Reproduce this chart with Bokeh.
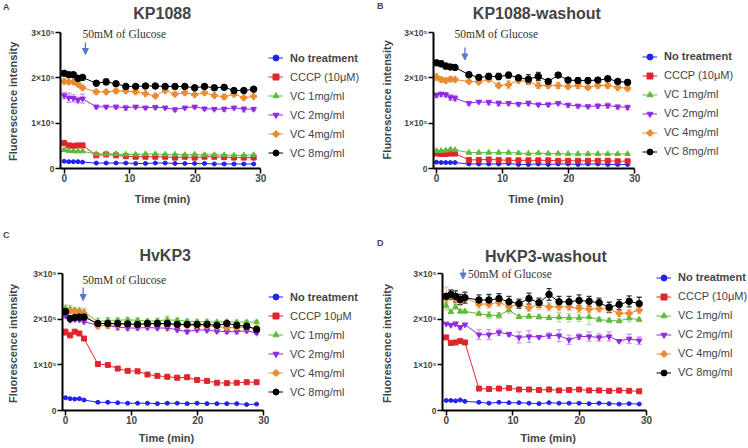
from bokeh.plotting import figure
from bokeh.models import (ColumnDataSource, Range1d, FixedTicker, Legend, LegendItem,
                          Whisker, TeeHead, Arrow, NormalHead, Label, LinearAxis)
from bokeh.layouts import column, row
from bokeh.embed import file_html
from bokeh.resources import INLINE

# ---------------- data ----------------
time_min = [0, 0.7, 1.4, 2.1, 2.8, 4.9, 6.4, 7.9, 9.4, 10.9, 12.4, 13.9, 15.4, 16.9,
            18.4, 19.9, 21.4, 22.9, 24.4, 25.9, 27.4, 28.9]
x_ticks = [0, 10, 20, 30]
y_ticks = [0, 100000, 200000, 300000]
y_tick_labels = ["0", "1×10⁵", "2×10⁵", "3×10⁵"]

series_names = ["No treatment", "CCCP (10μM)", "VC 1mg/ml", "VC 2mg/ml", "VC 4mg/ml", "VC 8mg/ml"]
series_names_hvkp3 = ["No treatment", "CCCP 10μM", "VC 1mg/ml", "VC 2mg/ml", "VC 4mg/ml", "VC 8mg/ml"]
panel_titles = ["KP1088", "KP1088-washout", "HvKP3", "HvKP3-washout"]
panel_letters = ["A", "B", "C", "D"]
glucose_text = "50mM of Glucose"
x_label = "Time (min)"
y_label = "Fluorescence intensity"

# values in units of 1e5
A_no = [0.16, 0.15, 0.15, 0.15, 0.14, 0.12, 0.12, 0.12, 0.12, 0.11, 0.11, 0.12, 0.12, 0.11, 0.11, 0.11, 0.11, 0.10, 0.10, 0.10, 0.10, 0.10]
A_cccp = [0.56, 0.51, 0.50, 0.51, 0.51, 0.29, 0.31, 0.29, 0.27, 0.26, 0.26, 0.26, 0.26, 0.24, 0.26, 0.24, 0.26, 0.26, 0.25, 0.24, 0.24, 0.24]
A_vc1 = [0.41, 0.39, 0.38, 0.38, 0.38, 0.32, 0.32, 0.32, 0.31, 0.31, 0.32, 0.32, 0.31, 0.31, 0.30, 0.31, 0.30, 0.30, 0.30, 0.29, 0.29, 0.30]
A_vc2 = [1.61, 1.56, 1.55, 1.51, 1.54, 1.36, 1.36, 1.36, 1.34, 1.36, 1.34, 1.35, 1.34, 1.30, 1.34, 1.36, 1.32, 1.31, 1.31, 1.34, 1.31, 1.31]
A_vc4 = [1.92, 1.91, 1.91, 1.86, 1.78, 1.69, 1.69, 1.71, 1.71, 1.69, 1.65, 1.60, 1.72, 1.64, 1.67, 1.63, 1.67, 1.61, 1.58, 1.64, 1.56, 1.59]
A_vc8 = [2.10, 2.07, 2.07, 1.99, 2.01, 1.88, 1.91, 1.87, 1.81, 1.81, 1.82, 1.82, 1.81, 1.81, 1.81, 1.78, 1.81, 1.78, 1.79, 1.72, 1.72, 1.75]
A_no_err = [0.01, 0.01, 0.01, 0.01, 0.01, 0.01, 0.01, 0.01, 0.01, 0.01, 0.01, 0.01, 0.01, 0.01, 0.01, 0.01, 0.01, 0.01, 0.01, 0.01, 0.01, 0.01]
A_cccp_err = [0.02, 0.01, 0.01, 0.01, 0.01, 0.02, 0.02, 0.02, 0.02, 0.02, 0.02, 0.02, 0.02, 0.02, 0.02, 0.02, 0.02, 0.02, 0.02, 0.02, 0.02, 0.02]
A_vc1_err = [0.02, 0.01, 0.01, 0.01, 0.01, 0.01, 0.01, 0.01, 0.01, 0.01, 0.01, 0.02, 0.01, 0.01, 0.01, 0.02, 0.01, 0.01, 0.01, 0.01, 0.01, 0.01]
A_vc2_err = [0.07, 0.10, 0.08, 0.06, 0.10, 0.04, 0.03, 0.04, 0.05, 0.03, 0.03, 0.04, 0.03, 0.04, 0.03, 0.03, 0.03, 0.03, 0.05, 0.03, 0.06, 0.04]
A_vc4_err = [0.04, 0.03, 0.03, 0.03, 0.03, 0.04, 0.03, 0.03, 0.03, 0.02, 0.02, 0.02, 0.02, 0.02, 0.02, 0.02, 0.02, 0.02, 0.05, 0.04, 0.02, 0.02]
A_vc8_err = [0.03, 0.02, 0.02, 0.06, 0.02, 0.03, 0.06, 0.03, 0.04, 0.03, 0.02, 0.02, 0.03, 0.03, 0.02, 0.02, 0.02, 0.02, 0.02, 0.02, 0.02, 0.03]

B_no = [0.14, 0.13, 0.13, 0.13, 0.13, 0.10, 0.10, 0.10, 0.10, 0.11, 0.09, 0.09, 0.10, 0.09, 0.10, 0.10, 0.09, 0.10, 0.10, 0.09, 0.09, 0.09]
B_cccp = [0.33, 0.32, 0.32, 0.33, 0.33, 0.19, 0.19, 0.20, 0.19, 0.18, 0.18, 0.18, 0.18, 0.18, 0.17, 0.17, 0.17, 0.17, 0.17, 0.17, 0.16, 0.16]
B_vc1 = [0.39, 0.39, 0.40, 0.42, 0.41, 0.35, 0.35, 0.35, 0.35, 0.35, 0.34, 0.33, 0.34, 0.33, 0.33, 0.32, 0.32, 0.32, 0.32, 0.32, 0.32, 0.32]
B_vc2 = [1.62, 1.64, 1.63, 1.57, 1.55, 1.44, 1.47, 1.46, 1.44, 1.44, 1.42, 1.44, 1.41, 1.41, 1.44, 1.40, 1.38, 1.37, 1.38, 1.39, 1.36, 1.35]
B_vc4 = [2.02, 1.96, 1.94, 1.97, 1.96, 1.92, 1.91, 1.97, 1.83, 1.85, 1.94, 1.92, 1.83, 1.83, 1.83, 1.81, 1.83, 1.79, 1.83, 1.83, 1.79, 1.77]
B_vc8 = [2.33, 2.31, 2.26, 2.24, 2.23, 2.07, 2.01, 2.03, 2.03, 2.06, 2.00, 1.97, 2.03, 1.92, 2.06, 1.95, 1.94, 1.94, 1.95, 1.98, 1.92, 1.90]
B_no_err = [0.01, 0.01, 0.01, 0.01, 0.01, 0.01, 0.01, 0.01, 0.01, 0.01, 0.01, 0.01, 0.01, 0.01, 0.01, 0.01, 0.01, 0.01, 0.01, 0.01, 0.01, 0.01]
B_cccp_err = [0.01, 0.01, 0.01, 0.01, 0.01, 0.02, 0.02, 0.02, 0.02, 0.02, 0.02, 0.02, 0.02, 0.02, 0.02, 0.02, 0.02, 0.02, 0.02, 0.02, 0.02, 0.02]
B_vc1_err = [0.01, 0.01, 0.01, 0.01, 0.01, 0.01, 0.01, 0.01, 0.01, 0.01, 0.01, 0.01, 0.01, 0.01, 0.01, 0.01, 0.01, 0.01, 0.01, 0.01, 0.01, 0.01]
B_vc2_err = [0.05, 0.05, 0.05, 0.06, 0.06, 0.04, 0.03, 0.05, 0.05, 0.04, 0.04, 0.05, 0.03, 0.04, 0.03, 0.04, 0.04, 0.03, 0.05, 0.05, 0.05, 0.05]
B_vc4_err = [0.08, 0.05, 0.05, 0.05, 0.04, 0.03, 0.03, 0.05, 0.04, 0.09, 0.05, 0.05, 0.06, 0.05, 0.07, 0.05, 0.07, 0.05, 0.05, 0.05, 0.07, 0.05]
B_vc8_err = [0.04, 0.06, 0.06, 0.04, 0.04, 0.05, 0.04, 0.07, 0.07, 0.06, 0.05, 0.10, 0.09, 0.03, 0.05, 0.05, 0.06, 0.05, 0.04, 0.05, 0.04, 0.05]

C_no = [0.28, 0.26, 0.25, 0.26, 0.23, 0.18, 0.18, 0.17, 0.16, 0.16, 0.16, 0.15, 0.16, 0.16, 0.15, 0.16, 0.15, 0.15, 0.15, 0.15, 0.13, 0.14]
C_cccp = [1.72, 1.65, 1.73, 1.69, 1.58, 1.02, 1.00, 0.92, 0.87, 0.86, 0.79, 0.76, 0.74, 0.72, 0.73, 0.67, 0.65, 0.61, 0.60, 0.61, 0.62, 0.62]
C_vc1 = [2.24, 2.23, 2.20, 2.19, 2.16, 1.95, 1.98, 1.98, 1.99, 1.98, 1.96, 1.97, 1.99, 1.98, 1.96, 1.95, 1.95, 1.94, 1.95, 1.94, 1.94, 1.94]
C_vc2 = [2.08, 1.98, 2.00, 1.99, 1.95, 1.87, 1.86, 1.83, 1.81, 1.81, 1.82, 1.81, 1.81, 1.77, 1.73, 1.77, 1.76, 1.74, 1.73, 1.73, 1.75, 1.70]
C_vc4 = [2.20, 2.19, 2.17, 2.16, 2.12, 1.86, 1.87, 1.88, 1.89, 1.88, 1.89, 1.90, 1.89, 1.88, 1.87, 1.86, 1.86, 1.84, 1.82, 1.82, 1.83, 1.80]
C_vc8 = [2.17, 2.02, 2.04, 2.05, 2.05, 1.91, 1.91, 1.91, 1.90, 1.89, 1.91, 1.91, 1.91, 1.89, 1.89, 1.89, 1.89, 1.87, 1.91, 1.87, 1.85, 1.78]
C_no_err = [0.01, 0.01, 0.01, 0.01, 0.01, 0.01, 0.01, 0.01, 0.01, 0.01, 0.01, 0.01, 0.01, 0.01, 0.01, 0.01, 0.01, 0.01, 0.01, 0.01, 0.01, 0.01]
C_cccp_err = [0.07, 0.05, 0.04, 0.03, 0.03, 0.03, 0.02, 0.03, 0.02, 0.02, 0.02, 0.02, 0.02, 0.03, 0.03, 0.02, 0.02, 0.02, 0.02, 0.02, 0.04, 0.02]
C_vc1_err = [0.08, 0.07, 0.06, 0.06, 0.06, 0.08, 0.06, 0.05, 0.05, 0.05, 0.05, 0.05, 0.08, 0.05, 0.04, 0.04, 0.04, 0.04, 0.04, 0.04, 0.04, 0.04]
C_vc2_err = [0.04, 0.04, 0.03, 0.03, 0.03, 0.05, 0.05, 0.05, 0.04, 0.04, 0.04, 0.04, 0.04, 0.04, 0.04, 0.04, 0.04, 0.04, 0.04, 0.04, 0.04, 0.03]
C_vc4_err = [0.06, 0.05, 0.05, 0.05, 0.12, 0.08, 0.06, 0.12, 0.14, 0.06, 0.10, 0.09, 0.14, 0.06, 0.05, 0.05, 0.04, 0.05, 0.05, 0.05, 0.06, 0.05]
C_vc8_err = [0.03, 0.03, 0.03, 0.03, 0.03, 0.02, 0.02, 0.02, 0.02, 0.02, 0.02, 0.02, 0.02, 0.02, 0.02, 0.02, 0.02, 0.02, 0.02, 0.02, 0.02, 0.03]

D_no = [0.22, 0.22, 0.21, 0.23, 0.20, 0.18, 0.16, 0.18, 0.17, 0.17, 0.16, 0.15, 0.17, 0.16, 0.16, 0.16, 0.15, 0.16, 0.15, 0.14, 0.15, 0.14]
D_cccp = [1.60, 1.48, 1.49, 1.52, 1.49, 0.48, 0.47, 0.48, 0.49, 0.46, 0.46, 0.45, 0.46, 0.44, 0.45, 0.46, 0.44, 0.44, 0.43, 0.44, 0.43, 0.42]
D_vc1 = [2.30, 2.16, 2.27, 2.17, 2.17, 2.12, 2.09, 2.08, 2.20, 2.05, 2.06, 2.05, 2.03, 2.04, 2.03, 2.03, 2.05, 1.99, 1.97, 1.96, 2.02, 1.99]
D_vc2 = [1.90, 1.87, 1.90, 1.82, 1.88, 1.66, 1.66, 1.71, 1.67, 1.60, 1.62, 1.61, 1.64, 1.64, 1.55, 1.62, 1.62, 1.60, 1.62, 1.52, 1.57, 1.53]
D_vc4 = [2.45, 2.52, 2.45, 2.40, 2.47, 2.33, 2.33, 2.37, 2.27, 2.33, 2.25, 2.32, 2.27, 2.27, 2.27, 2.24, 2.22, 2.23, 2.22, 2.13, 2.13, 2.20]
D_vc8 = [2.50, 2.54, 2.50, 2.43, 2.47, 2.42, 2.42, 2.45, 2.38, 2.34, 2.45, 2.36, 2.54, 2.38, 2.38, 2.41, 2.39, 2.36, 2.26, 2.32, 2.39, 2.34]
D_no_err = [0.01, 0.01, 0.01, 0.01, 0.01, 0.01, 0.01, 0.01, 0.01, 0.01, 0.01, 0.01, 0.01, 0.01, 0.01, 0.01, 0.01, 0.01, 0.01, 0.01, 0.01, 0.01]
D_cccp_err = [0.02, 0.03, 0.04, 0.03, 0.03, 0.02, 0.02, 0.02, 0.02, 0.02, 0.02, 0.02, 0.02, 0.02, 0.02, 0.02, 0.02, 0.02, 0.03, 0.02, 0.02, 0.02]
D_vc1_err = [0.06, 0.04, 0.05, 0.04, 0.04, 0.04, 0.07, 0.06, 0.07, 0.04, 0.04, 0.05, 0.04, 0.10, 0.09, 0.08, 0.17, 0.05, 0.05, 0.04, 0.08, 0.04]
D_vc2_err = [0.02, 0.02, 0.04, 0.04, 0.02, 0.11, 0.11, 0.07, 0.04, 0.12, 0.13, 0.02, 0.06, 0.13, 0.10, 0.06, 0.10, 0.08, 0.10, 0.02, 0.10, 0.08]
D_vc4_err = [0.25, 0.10, 0.10, 0.08, 0.10, 0.10, 0.08, 0.09, 0.08, 0.10, 0.08, 0.10, 0.09, 0.09, 0.08, 0.09, 0.08, 0.07, 0.08, 0.07, 0.08, 0.08]
D_vc8_err = [0.06, 0.10, 0.12, 0.11, 0.12, 0.11, 0.12, 0.11, 0.12, 0.10, 0.12, 0.10, 0.13, 0.12, 0.12, 0.12, 0.11, 0.10, 0.11, 0.11, 0.12, 0.14]

UNIT = 1e5

# ---------------- styles ----------------
COLORS = ["#2222f2", "#e0262c", "#5fba3a", "#9128e4", "#ea8a30", "#000000"]
ERR_COLORS = ["#9c9cf8", "#f29a9c", "#b4e09c", "#cf9af2", "#f5c498", "#3a3a3a"]
MARKERS = ["circle", "square", "triangle", "inverted_triangle", "plus", "circle"]
SIZES = [4, 5, 5.5, 5.5, 6, 6.5]
FONT = "Liberation Sans"
W, H = 374, 224
NBSP = "\u00a0"
SPACE_W = 0.278 * 11  # width of a (non-breaking) space in 11px Liberation Sans


def build_panel(title, letter, names, vals, errs, lay):
    # layout in figure pixels: x0/x30 = pixel of t=0 / t=30, y0/y3 = pixel of 0 / 3e5
    x0, x30, y0, y3 = lay["x0"], lay["x30"], lay["y0"], lay["y3"]
    ppu = (x30 - x0) / 30.0
    left = int(round(x0 - 0.5 * ppu))
    fb = int(round(y0))
    x_start = -(x0 - left) / ppu
    x_end = 30 + (W - x30) / ppu
    y_end = 300000.0 * fb / (fb - y3)

    def px2x(px):
        return x_start + (px - left) / ppu

    def px2y(py):
        return (fb - py) * 300000.0 / (fb - y3)

    p = figure(width=W, height=H, output_backend="svg", toolbar_location=None,
               x_range=Range1d(x_start, x_end), y_range=Range1d(0, y_end),
               min_border_left=left, min_border_right=0,
               min_border_top=0, min_border_bottom=H - fb)
    p.outline_line_color = None
    p.xgrid.visible = False
    p.ygrid.visible = False

    for ax in (p.xaxis[0], p.yaxis[0]):
        ax.axis_line_width = 2
        ax.major_tick_line_width = 1.5
        ax.major_tick_out = 5
        ax.major_tick_in = 0
        ax.minor_tick_line_color = None
        ax.major_label_text_font = FONT
        ax.major_label_text_font_style = "bold"
        ax.axis_label_text_font = FONT
        ax.axis_label_text_font_style = "bold"
        ax.axis_label_text_font_size = "11px"

    # axis labels are centred on the (extended) frame; pad them so the visible text
    # sits where the reference places it
    n_x = max(0, int(round(2 * ((left + W) / 2.0 - lay["xlab_cx"]) / SPACE_W)))
    n_y = max(0, int(round(2 * (lay["ylab_cy"] - fb / 2.0) / SPACE_W)))

    p.xaxis.ticker = FixedTicker(ticks=x_ticks)
    p.xaxis.bounds = (x_start, 30)
    p.xaxis.major_label_text_font_size = "10px"
    p.xaxis.major_label_standoff = 0
    p.xaxis.axis_label = x_label + NBSP * n_x
    p.xaxis.axis_label_standoff = int(lay["xlab_standoff"])
    p.yaxis.ticker = FixedTicker(ticks=y_ticks)
    p.yaxis.bounds = (0, 300000)
    p.yaxis.major_label_overrides = dict(zip(y_ticks, y_tick_labels))
    p.yaxis.major_label_text_font_size = "8.5px"
    p.yaxis.major_label_standoff = 1
    p.yaxis.axis_label = y_label + NBSP * n_y
    p.yaxis.axis_label_standoff = int(lay["ylab_standoff"])

    # panel letter: tick label of a bare outer axis on the left
    yl = int(round(px2y(lay["letter_y"])))
    lax = LinearAxis(ticker=FixedTicker(ticks=[yl]), major_label_overrides={yl: letter},
                     axis_line_color=None, major_tick_line_color=None, minor_tick_line_color=None,
                     major_tick_out=0, major_tick_in=0, major_label_standoff=-5,
                     major_label_text_font=FONT, major_label_text_font_size="9px",
                     major_label_text_font_style="bold")
    p.add_layout(lax, "left")

    items = []
    for i, (name, v, e) in enumerate(zip(names, vals, errs)):
        y = [a * UNIT for a in v]
        up = [(a + b) * UNIT for a, b in zip(v, e)]
        lo = [(a - b) * UNIT for a, b in zip(v, e)]
        src = ColumnDataSource(dict(x=time_min, y=y, upper=up, lower=lo))
        wk = Whisker(base="x", upper="upper", lower="lower", source=src, level="underlay",
                     line_color=ERR_COLORS[i], line_width=1.3,
                     upper_head=TeeHead(size=5, line_color=ERR_COLORS[i], line_width=1.3),
                     lower_head=TeeHead(size=5, line_color=ERR_COLORS[i], line_width=1.3))
        p.add_layout(wk)
        lr = p.line("x", "y", source=src, line_color=COLORS[i], line_width=1)
        sr = p.scatter("x", "y", source=src, marker=MARKERS[i], size=SIZES[i],
                       fill_color=COLORS[i], line_color=COLORS[i])
        items.append(LegendItem(label=name, renderers=[lr, sr]))

    # legend: first entry bold, the rest regular
    gh, sp = 15, 4
    top1 = lay["legend_y0"] - gh / 2
    groups = [(items[:1], "bold", top1), (items[1:], "normal", top1 + gh + sp)]
    for its, style, tp in groups:
        n = len(its)
        hgt = n * gh + (n - 1) * sp
        leg = Legend(items=its, location=(lay["legend_x"] - left, fb - tp - hgt),
                     glyph_width=15, glyph_height=gh, label_height=gh, spacing=sp,
                     padding=0, margin=0, label_standoff=7,
                     label_text_font=FONT, label_text_font_size="11px",
                     label_text_font_style=style,
                     border_line_color=None, background_fill_alpha=0)
        p.add_layout(leg)

    tx, ty = lay["title_xy"]
    p.add_layout(Label(x=px2x(tx), y=px2y(ty), text=title, text_font=FONT,
                       text_font_size="16px", text_font_style="bold",
                       text_align="center", text_baseline="alphabetic"))
    gx, gy = lay["glucose_xy"]
    p.add_layout(Label(x=px2x(gx), y=px2y(gy), text=glucose_text, text_font="Liberation Serif",
                       text_font_size="11.5px", text_color="#333333", text_baseline="middle"))
    ax_, ay0, ay1 = lay["arrow"]
    ac = "#5a78d2"
    p.add_layout(Arrow(x_start=px2x(ax_), y_start=px2y(ay0), x_end=px2x(ax_), y_end=px2y(ay1),
                       line_color=ac, line_width=1.3,
                       end=NormalHead(size=6, fill_color=ac, line_color=ac)))
    return p


layouts = [
    dict(x0=62.7, x30=260, y0=168, y3=32, ylab_standoff=9, xlab_standoff=8,
         xlab_cx=161.7, ylab_cy=100.5,
         letter_y=6.5, legend_x=267, legend_y0=57.5, title_xy=(161, 12.7),
         glucose_xy=(81, 33), arrow=(84, 42, 54)),
    dict(x0=61, x30=260, y0=168, y3=32, ylab_standoff=8, xlab_standoff=8,
         xlab_cx=161.7, ylab_cy=100,
         letter_y=6, legend_x=267, legend_y0=56, title_xy=(161.7, 12.7),
         glucose_xy=(79, 33), arrow=(89.5, 47, 59.5)),
    dict(x0=64, x30=263, y0=186, y3=49.3, ylab_standoff=11, xlab_standoff=5,
         xlab_cx=165, ylab_cy=119,
         letter_y=10, legend_x=267, legend_y0=72.5, title_xy=(164, 30.7),
         glucose_xy=(81, 55), arrow=(81.7, 63, 76)),
    dict(x0=70.7, x30=271.7, y0=186, y3=49, ylab_standoff=17, xlab_standoff=5,
         xlab_cx=173.3, ylab_cy=118.3,
         letter_y=18.3, legend_x=281, legend_y0=53.3, title_xy=(170.8, 31.7),
         glucose_xy=(92.7, 49.3), arrow=(87.7, 44.3, 54.5)),
]

pA = build_panel(panel_titles[0], panel_letters[0], series_names,
                 [A_no, A_cccp, A_vc1, A_vc2, A_vc4, A_vc8],
                 [A_no_err, A_cccp_err, A_vc1_err, A_vc2_err, A_vc4_err, A_vc8_err], layouts[0])
pB = build_panel(panel_titles[1], panel_letters[1], series_names,
                 [B_no, B_cccp, B_vc1, B_vc2, B_vc4, B_vc8],
                 [B_no_err, B_cccp_err, B_vc1_err, B_vc2_err, B_vc4_err, B_vc8_err], layouts[1])
pC = build_panel(panel_titles[2], panel_letters[2], series_names_hvkp3,
                 [C_no, C_cccp, C_vc1, C_vc2, C_vc4, C_vc8],
                 [C_no_err, C_cccp_err, C_vc1_err, C_vc2_err, C_vc4_err, C_vc8_err], layouts[2])
pD = build_panel(panel_titles[3], panel_letters[3], series_names,
                 [D_no, D_cccp, D_vc1, D_vc2, D_vc4, D_vc8],
                 [D_no_err, D_cccp_err, D_vc1_err, D_vc2_err, D_vc4_err, D_vc8_err], layouts[3])

page = column(row(pA, pB), row(pC, pD))
open("out.html", "w").write(file_html(page, INLINE))
